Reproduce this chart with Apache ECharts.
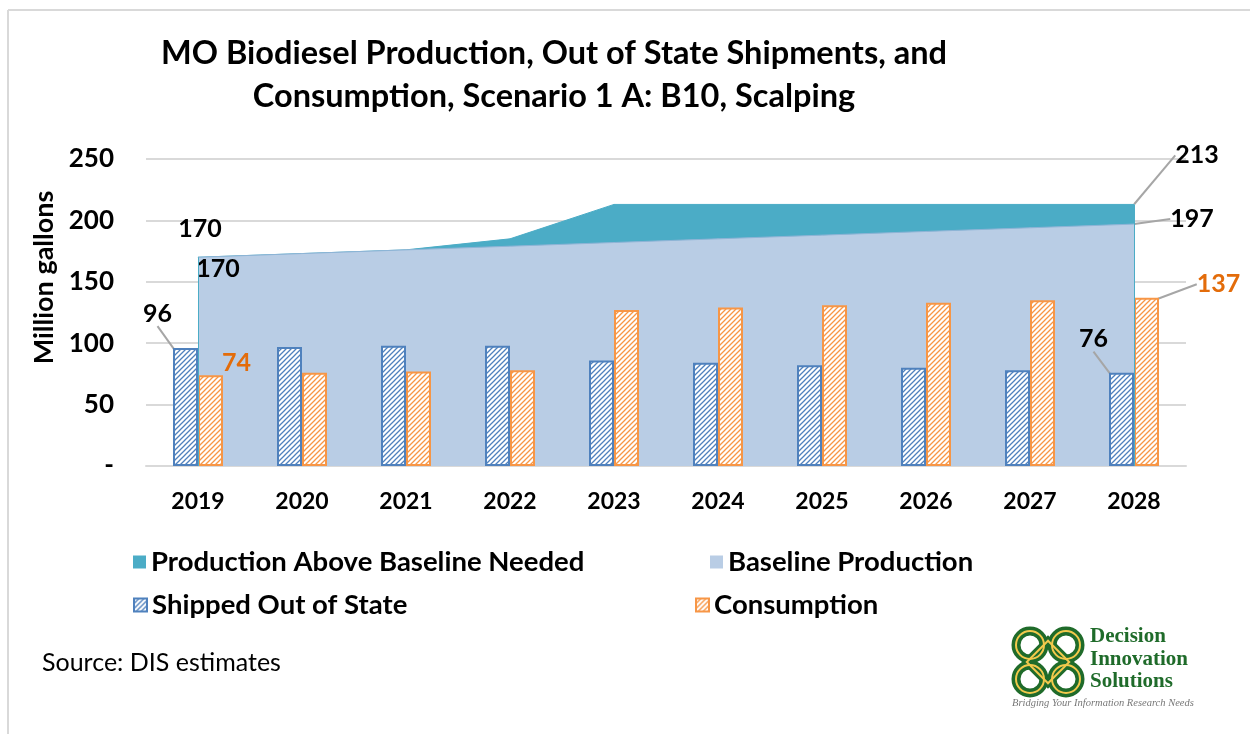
<!DOCTYPE html>
<html>
<head>
<meta charset="utf-8">
<script src="https://cdn.jsdelivr.net/npm/echarts@6/dist/echarts.min.js"></script>
<style>
  html, body { margin: 0; padding: 0; background: #fff; }
  #chart { width: 1250px; height: 734px; }
</style>
</head>
<body>
<div id="chart"></div>
<script>
// Years on the category axis
const years = ['2019', '2020', '2021', '2022', '2023', '2024', '2025', '2026', '2027', '2028'];
// Million gallons
const totalProduction = [170, 173, 176, 185, 213, 213, 213, 213, 213, 213];
const baselineProduction = [170, 173, 176, 179, 182, 185, 188, 191, 194, 197];
const shippedOut = [96, 97, 98, 98, 86, 84, 82, 80, 78, 76];
const consumption = [74, 76, 77, 78, 127, 129, 131, 133, 135, 137];
// Y axis ticks
const yTicks = [0, 50, 100, 150, 200, 250];

const FONT = 'Lato, "Open Sans", sans-serif';
const SERIF = '"Liberation Serif", "DejaVu Serif", serif';
const TEAL = '#4BACC6';
const LIGHT = '#B9CDE5';
const BLUE = '#4F81BD';
const ORANGE = '#F79646';
const ORANGE_TXT = '#E36C0A';
const GREEN = '#1F6B2A';
const GOLD = '#F2C94C';

// diagonal hatch fill
function hatch(color) {
  const c = document.createElement('canvas');
  const s = 5;
  c.width = s; c.height = s;
  const g = c.getContext('2d');
  g.fillStyle = '#fff';
  g.fillRect(0, 0, s, s);
  g.strokeStyle = color;
  g.lineWidth = 1.3;
  g.beginPath();
  g.moveTo(-1, s + 1); g.lineTo(s + 1, -1);
  g.moveTo(-1, 1); g.lineTo(1, -1);
  g.moveTo(s - 1, s + 1); g.lineTo(s + 1, s - 1);
  g.stroke();
  return { image: c, repeat: 'repeat' };
}

const labelFont = { fontFamily: FONT, fontWeight: 'bold', fontSize: 25, color: '#000' };
const leader = { show: true, lineStyle: { color: '#A6A6A6', width: 2 } };

function withLabels(values, idxs, extra) {
  return values.map((v, i) => idxs.includes(i)
    ? Object.assign({ value: v }, extra(i))
    : { value: v, label: { show: false }, labelLine: { show: false } });
}

const chart = echarts.init(document.getElementById('chart'), null, { renderer: 'canvas' });

const option = {
  animation: false,
  backgroundColor: '#fff',
  grid: { left: 146, right: 64, top: 159, bottom: 268, containLabel: false },
  xAxis: {
    type: 'category',
    data: years,
    boundaryGap: true,
    axisLine: { lineStyle: { color: '#D9D9D9', width: 2 } },
    axisTick: { show: false },
    axisLabel: { margin: 24, fontFamily: FONT, fontWeight: 'bold', fontSize: 23, color: '#000' }
  },
  yAxis: {
    type: 'value',
    min: yTicks[0],
    max: yTicks[yTicks.length - 1],
    interval: 50,
    name: 'Million gallons',
    nameLocation: 'middle',
    nameGap: 84,
    nameTextStyle: { fontFamily: FONT, fontWeight: 'bold', fontSize: 27, color: '#000', padding: [0, 0, 0, 70] },
    axisLine: { show: false },
    axisTick: { show: false },
    splitLine: { lineStyle: { color: '#D9D9D9', width: 2 } },
    axisLabel: {
      margin: 32,
      fontFamily: FONT, fontWeight: 'bold', fontSize: 26, color: '#000',
      formatter: v => (v === 0 ? '-' : String(v))
    }
  },
  legend: [
    { left: 133, top: 548, data: [{ name: 'Production Above Baseline Needed', itemStyle: { color: TEAL, opacity: 1 } }] },
    { left: 710, top: 548, data: [{ name: 'Baseline Production', itemStyle: { color: LIGHT, opacity: 1 } }] },
    { left: 133, top: 591, data: ['Shipped Out of State'] },
    { left: 695, top: 591, data: ['Consumption'] }
  ].map(l => Object.assign({
    orient: 'horizontal',
    icon: 'rect',
    itemWidth: 13,
    itemHeight: 13,
    itemGap: 0,
    padding: 0,
    selectedMode: false,
    textStyle: { fontFamily: FONT, fontWeight: 'bold', fontSize: 27.5, color: '#000', padding: [0, 0, 0, 0] }
  }, l)),
  series: [
    {
      name: 'Production Above Baseline Needed',
      type: 'line',
      data: withLabels(totalProduction, [0, 9], i => i === 0
        ? { label: { show: true, position: 'top' } }
        : { label: { show: true, position: 'right' }, labelLine: leader }),
      symbol: 'circle',
      symbolSize: 0.5,
      showSymbol: true,
      itemStyle: { color: TEAL },
      lineStyle: { color: TEAL, width: 1 },
      areaStyle: { color: TEAL, opacity: 1 },
      label: labelFont,
      labelLayout: p => (p.dataIndex === 9 ? { dx: 36, dy: -49 } : { dx: 2, dy: -11 }),
      z: 1
    },
    {
      name: 'Baseline Production',
      type: 'line',
      data: withLabels(baselineProduction, [0, 9], i => i === 0
        ? { label: { show: true, position: 'bottom' } }
        : { label: { show: true, position: 'right' }, labelLine: leader }),
      symbol: 'circle',
      symbolSize: 0.5,
      showSymbol: true,
      itemStyle: { color: LIGHT },
      lineStyle: { color: '#8EB4D6', width: 1 },
      areaStyle: { color: LIGHT, opacity: 1 },
      label: labelFont,
      labelLayout: p => (p.dataIndex === 9 ? { dx: 31, dy: -5 } : { dx: 20, dy: -6 }),
      markLine: {
        silent: true,
        symbol: 'none',
        label: { show: false },
        lineStyle: { color: TEAL, width: 1, type: 'solid' },
        data: [
          [{ coord: [years[0], 0] }, { coord: [years[0], totalProduction[0]] }],
          [{ coord: [years[9], 0] }, { coord: [years[9], totalProduction[9]] }]
        ]
      },
      z: 2
    },
    {
      name: 'Shipped Out of State',
      type: 'bar',
      barWidth: 25,
      barGap: '0%',
      data: withLabels(shippedOut, [0, 9], () => ({ label: { show: true, position: 'top' }, labelLine: leader })),
      itemStyle: { color: hatch(BLUE), borderColor: BLUE, borderWidth: 2 },
      label: labelFont,
      labelLayout: p => (p.dataIndex === 0 ? { dx: -28, dy: -17 } : { dx: -28, dy: -16 }),
      z: 3
    },
    {
      name: 'Consumption',
      type: 'bar',
      barWidth: 25,
      data: withLabels(consumption, [0, 9], i => i === 0
        ? { label: { show: true, position: 'top', color: ORANGE_TXT } }
        : { label: { show: true, position: 'top', color: ORANGE_TXT }, labelLine: leader }),
      itemStyle: { color: hatch(ORANGE), borderColor: ORANGE, borderWidth: 2 },
      label: labelFont,
      labelLayout: p => (p.dataIndex === 9 ? { dx: 72, dy: 4 } : { dx: 26, dy: 5 }),
      z: 3
    }
  ],
  graphic: [
    // frame
    { type: 'line', shape: { x1: 8, y1: 10, x2: 1250, y2: 10 }, style: { stroke: '#D9D9D9', lineWidth: 2 }, silent: true },
    { type: 'line', shape: { x1: 8, y1: 10, x2: 8, y2: 734 }, style: { stroke: '#D9D9D9', lineWidth: 2 }, silent: true },
    // title
    {
      type: 'text', x: 554, y: 54,
      style: { text: 'MO Biodiesel Production, Out of State Shipments, and', font: 'bold 32.5px ' + FONT, fill: '#000', textAlign: 'center', textVerticalAlign: 'middle' }
    },
    {
      type: 'text', x: 554, y: 97,
      style: { text: 'Consumption, Scenario 1 A: B10, Scalping', font: 'bold 32.5px ' + FONT, fill: '#000', textAlign: 'center', textVerticalAlign: 'middle' }
    },
    // source note
    {
      type: 'text', x: 42, y: 663,
      style: { text: 'Source: DIS estimates', font: '25px ' + FONT, fill: '#000', textAlign: 'left', textVerticalAlign: 'middle' }
    },
    // company mark
    {
      type: 'group', x: 1048, y: 662,
      children: [
        { type: 'circle', shape: { cx: -18, cy: -17, r: 14 }, style: { fill: 'none', stroke: GREEN, lineWidth: 9 } },
        { type: 'circle', shape: { cx: 18, cy: -17, r: 14 }, style: { fill: 'none', stroke: GREEN, lineWidth: 9 } },
        { type: 'circle', shape: { cx: -18, cy: 17, r: 14 }, style: { fill: 'none', stroke: GREEN, lineWidth: 9 } },
        { type: 'circle', shape: { cx: 18, cy: 17, r: 14 }, style: { fill: 'none', stroke: GREEN, lineWidth: 9 } },
        { type: 'rect', shape: { x: -15, y: -15, width: 30, height: 30 }, rotation: Math.PI / 4, style: { fill: 'none', stroke: GREEN, lineWidth: 8 } },
        { type: 'circle', shape: { cx: -18, cy: -17, r: 14 }, style: { fill: 'none', stroke: GOLD, lineWidth: 2 } },
        { type: 'circle', shape: { cx: 18, cy: -17, r: 14 }, style: { fill: 'none', stroke: GOLD, lineWidth: 2 } },
        { type: 'circle', shape: { cx: -18, cy: 17, r: 14 }, style: { fill: 'none', stroke: GOLD, lineWidth: 2 } },
        { type: 'circle', shape: { cx: 18, cy: 17, r: 14 }, style: { fill: 'none', stroke: GOLD, lineWidth: 2 } },
        { type: 'rect', shape: { x: -15, y: -15, width: 30, height: 30 }, rotation: Math.PI / 4, style: { fill: 'none', stroke: GOLD, lineWidth: 2 } }
      ]
    },
    { type: 'text', x: 1090, y: 637, style: { text: 'Decision', font: 'bold 21px ' + SERIF, fill: GREEN, textVerticalAlign: 'middle' } },
    { type: 'text', x: 1090, y: 660, style: { text: 'Innovation', font: 'bold 21px ' + SERIF, fill: GREEN, textVerticalAlign: 'middle' } },
    { type: 'text', x: 1090, y: 682, style: { text: 'Solutions', font: 'bold 21px ' + SERIF, fill: GREEN, textVerticalAlign: 'middle' } },
    { type: 'text', x: 1012, y: 703, style: { text: 'Bridging Your Information Research Needs', font: 'italic 10.5px ' + SERIF, fill: '#777', textVerticalAlign: 'middle' } }
  ]
};

chart.setOption(option);
</script>
</body>
</html>
